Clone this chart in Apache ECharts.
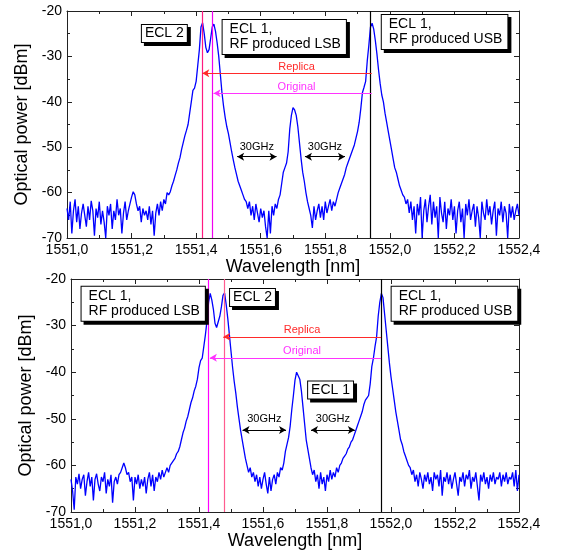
<!DOCTYPE html>
<html><head><meta charset="utf-8">
<script src="https://cdn.jsdelivr.net/npm/echarts@6/dist/echarts.min.js"></script>
<style>html,body{margin:0;padding:0;background:#fff}#c{width:561px;height:553px}</style>
</head><body><div id="c"></div>
<script>
// wavelength grid (nm): first sample and sample spacing
const wlStart = 1551.0;
const wlStep = 0.005;
const xMin = 1551.0, xMax = 1552.4, xInterval = 0.2;
const yMin = -70, yMax = -20, yInterval = 10;

// optical power [dBm]
const topPower = [
-63.5,-66,-62,-69,-64,-61.5,-66.5,-63,-68,-64.5,
-62.5,-65,-67.5,-63,-66,-61.8,-64,-69.5,-63.5,-65.5,
-62,-67,-64,-66.5,-70,-63,-65,-62.5,-68,-64,
-66,-61.5,-65,-63.5,-69,-64.5,-62,-66,-64,-62.5,
-61,-59.8,-60.5,-62.5,-64,-63,-66.5,-63.5,-65,-64,
-66,-63,-67,-64,-69.5,-64.5,-62.5,-65,-62,-64,
-61.5,-62.5,-60,-60.5,-59.8,-58.5,-57.5,-56.2,-55,-53.5,
-52.3,-50.5,-49,-47.5,-46.3,-45,-42.5,-40,-37.5,-37,
-35.5,-32,-28.5,-23.5,-22.6,-25,-28,-29.2,-28.5,-26,
-23.5,-22.9,-24.5,-27,-30,-34,-38,-41,-43.5,-45.5,
-47,-49,-51,-52.8,-54.5,-56,-57.5,-58.5,-59.5,-60.5,
-61.5,-62,-63.5,-62,-65,-63,-66,-62.5,-64.5,-66.5,
-63.5,-65.5,-64,-67.5,-70,-64,-69,-63,-65,-62.5,
-63.5,-61.5,-60.5,-58,-55.5,-54.5,-53.5,-51,-46,-43,
-41.3,-41.8,-43,-45.5,-49,-52.5,-55.5,-57.5,-60,-62,
-63.5,-65,-67.8,-63,-66,-64,-62.5,-65.5,-63,-66,
-62,-64.5,-63,-61.5,-64,-62,-63,-61.5,-60,-59,
-58,-57,-56,-54.5,-53.5,-52.5,-51.5,-50.5,-49.5,-48,
-46.5,-44.5,-41.5,-38,-36.8,-35.5,-31,-27.5,-23.5,-22.7,
-24,-26.5,-29.5,-33,-36,-38.5,-40,-42.5,-44.5,-46.5,
-48.5,-50.5,-52.5,-54.5,-55.5,-57,-58.5,-59.5,-60.5,-61,
-62.5,-61.5,-64.5,-62,-66,-63,-69,-62.5,-65,-61,
-70,-64,-61.5,-66.5,-63,-60.5,-67,-62,-65.5,-63,
-70,-61,-64.5,-66.5,-62,-68,-63.5,-65,-61.5,-66,
-63,-69,-64,-62,-66.5,-63.5,-70,-62.5,-65,-61.5,
-66,-64,-62.5,-67.5,-63,-65.5,-70,-62,-64.5,-66,
-61.5,-65,-63,-67,-64,-62,-69.5,-63.5,-65,-62,
-66.5,-63,-64.5,-70,-62.5,-65.5,-63,-66,-64,-62.5,-65
];

// optical power [dBm]
const bottomPower = [
-63,-65.5,-69.5,-62.5,-64,-61.8,-65,-63,-62,-66.5,
-63.5,-61.5,-64.5,-62.5,-67.5,-63,-61.8,-64,-65.5,-62.5,
-63.5,-61.5,-66,-63,-64.5,-62,-68,-63.5,-62.5,-64,
-62,-61.5,-60.5,-59.5,-60.5,-62,-61.5,-63.5,-62.5,-67.5,
-62.5,-64,-62,-65,-63,-64.5,-62.5,-66,-63,-61.5,
-64.5,-62,-65.5,-62.5,-63.5,-61.5,-63,-61,-62.5,-61.5,
-60.5,-61.5,-60,-59.8,-59,-58.5,-57.5,-57,-56,-54.5,
-53,-52,-50.5,-49.5,-48,-46.5,-45.5,-44,-43,-41.5,
-39,-37.5,-37,-34.5,-32,-29,-25,-23.1,-24.5,-26.5,
-29.5,-30.4,-30.2,-28,-26,-23.5,-23,-25.5,-28.5,-32,
-35.5,-39,-42,-44.5,-47.5,-50,-52.5,-54.5,-56.5,-58.5,
-60,-61.5,-60.5,-62.5,-61.5,-63.5,-62,-64.5,-62.5,-65,
-63,-61.5,-64,-66,-62.5,-65.5,-63,-62,-64,-61.5,
-62.5,-60.5,-61,-59.5,-57,-55.5,-54,-51.5,-48,-45,
-41.7,-40,-40.2,-41.5,-44,-47.5,-51,-54.5,-56.5,-58.5,
-60.5,-62,-61,-63.5,-62,-65,-61.5,-64,-62.5,-65.5,
-62,-63.5,-61,-63,-61.5,-62.5,-60.5,-61.5,-60,-59.5,
-58.5,-58,-57.5,-56.5,-56,-55,-54.5,-53.5,-52.5,-51.5,
-50.5,-49.5,-48.5,-47,-46,-45.5,-45,-42.5,-38.8,-37,
-34.5,-32.4,-28,-25,-23.1,-24,-27.5,-31,-34.5,-38,
-41,-43.5,-46,-48.5,-50.5,-52.5,-54.5,-55.5,-57,-58,
-59,-60,-60.5,-62,-61,-63.5,-62,-64.5,-61.5,-63,
-65,-62,-63.5,-61.5,-64,-62.5,-65.5,-61.5,-63,-62,
-64.5,-61,-66.5,-62.5,-63.5,-61.5,-64,-62,-65,-63,
-61.5,-64,-66.5,-62.5,-63.5,-61.5,-64.5,-62,-63,-61,
-65,-62.5,-63.5,-61.5,-64.5,-67.5,-62,-63.5,-61.5,-64,
-62.5,-65,-62,-63.5,-61.5,-64,-62.5,-63,-61.5,-64.5,
-62,-63.5,-61.5,-64,-62.5,-63,-61.5,-64.5,-61,-65.5,-62
];

// marker wavelengths (nm) and levels (dBm)
const topVLines = [1551.419, 1551.454, 1551.944];
const botVLines = [1551.434, 1551.476, 1551.969];
const topArrowLevels = [-33.7, -38.1];      // Replica, Original
const botArrowLevels = [-32.4, -36.9];
const topGHz = [[1551.527, 1551.649], [1551.737, 1551.861]];
const botGHz = [[1551.536, 1551.672], [1551.750, 1551.887]];
const topGHzLevel = -52.1, botGHzLevel = -52.4;
const topTexts = [
  {t: 'ECL 2', at: [1551.232, -23.1]},
  {t: 'ECL 1,\nRF produced LSB', at: [1551.482, -22.0]},
  {t: 'ECL 1,\nRF produced USB', at: [1551.975, -20.9]}
];
const botTexts = [
  {t: 'ECL 1,\nRF produced LSB', at: [1551.033, -21.65]},
  {t: 'ECL 2', at: [1551.497, -22.15]},
  {t: 'ECL 1,\nRF produced USB', at: [1552.002, -21.65]},
  {t: 'ECL 1', at: [1551.741, -42.0]}
];

const FONT = "'Liberation Sans', Arial, sans-serif";
const AX = '#222';

function toPairs(arr) {
  return arr.map((v, i) => [+(wlStart + i * wlStep).toFixed(3), v]);
}

function xAxisOf(gi, pos, main, gap) {
  return {
    type: 'value', gridIndex: gi, position: pos, min: xMin, max: xMax, interval: xInterval,
    axisLine: {show: true, onZero: false, lineStyle: {color: AX, width: 1}},
    axisTick: {show: true, inside: true, length: 5, lineStyle: {color: AX}},
    minorTick: {show: true, splitNumber: 2, length: 3, lineStyle: {color: AX}},
    splitLine: {show: false},
    axisLabel: {show: main, showMinLabel: true, showMaxLabel: true, margin: 5,
      formatter: v => v.toFixed(1).replace('.', ','), fontSize: 14, color: '#000', fontFamily: FONT},
    name: main ? 'Wavelength [nm]' : '', nameLocation: 'middle', nameGap: gap,
    nameTextStyle: {fontSize: 18, color: '#000', fontFamily: FONT}
  };
}
function yAxisOf(gi, pos, main, gap) {
  return {
    type: 'value', gridIndex: gi, position: pos, min: yMin, max: yMax, interval: yInterval,
    axisLine: {show: true, onZero: false, lineStyle: {color: AX, width: 1}},
    axisTick: {show: true, inside: true, length: 5, lineStyle: {color: AX}},
    minorTick: {show: true, splitNumber: 2, length: 3, lineStyle: {color: AX}},
    splitLine: {show: false},
    axisLabel: {show: main, showMinLabel: true, showMaxLabel: true, margin: 5,
      formatter: v => String(v), fontSize: 14, color: '#000', fontFamily: FONT},
    name: main ? 'Optical power [dBm]' : '', nameLocation: 'middle', nameGap: gap,
    nameTextStyle: {fontSize: 18, color: '#000', fontFamily: FONT}
  };
}

function vline(x, color) {
  return {xAxis: x, lineStyle: {color: color, width: 1.2, type: 'solid'}, label: {show: false}};
}
function arrow(xFrom, xTo, y, color) {
  return [
    {coord: [xFrom, y], symbol: 'arrow', symbolSize: [6, 7],
     lineStyle: {color: color, width: 1.2, type: 'solid'}, label: {show: false}},
    {coord: [xTo, y], symbol: 'none'}
  ];
}
function dblArrow(x1, x2, y) {
  return [
    {coord: [x1, y], symbol: 'arrow', symbolSize: [6, 7],
     lineStyle: {color: '#000', width: 1, type: 'solid'}, label: {show: false}},
    {coord: [x2, y], symbol: 'arrow', symbolSize: [6, 7]}
  ];
}
function textMark(txt, at, color) {
  return {coord: at, symbol: 'circle', symbolSize: 1, itemStyle: {color: 'rgba(0,0,0,0)'},
    label: {show: true, position: 'inside', formatter: txt, color: color, fontSize: 11,
      fontFamily: FONT, align: 'center', verticalAlign: 'middle'}};
}
function boxMark(item) {
  const two = item.t.indexOf('\n') >= 0;
  return {coord: item.at, symbol: 'circle', symbolSize: 1, itemStyle: {color: 'rgba(0,0,0,0)'},
    label: {show: true, position: 'inside', formatter: item.t, color: '#000', fontSize: 14,
      lineHeight: 15, fontFamily: FONT, align: 'left', verticalAlign: 'top',
      backgroundColor: '#fff', borderColor: '#000', borderWidth: 1,
      padding: two ? [2, 5, 2, 7] : [1, 3, 1, 3],
      shadowColor: '#000', shadowBlur: 0, shadowOffsetX: 3, shadowOffsetY: 3}};
}

function markers(vl, levels, ghz, ghzLevel, texts, vColors, labelPos, ghzLabelLevel) {
  return {
    markLine: {
      silent: true, animation: false, symbol: ['none', 'none'],
      data: [
        vline(vl[0], vColors[0]), vline(vl[1], vColors[1]), vline(vl[2], '#000'),
        arrow(vl[labelPos.rep], vl[2], levels[0], '#ff2a2a'),
        arrow(vl[labelPos.ori], vl[2], levels[1], '#ff33ff'),
        dblArrow(ghz[0][0], ghz[0][1], ghzLevel),
        dblArrow(ghz[1][0], ghz[1][1], ghzLevel)
      ]
    },
    markPoint: {
      silent: true, animation: false,
      data: [
        textMark('Replica', [labelPos.x, levels[0] + 1.45], '#ff2a2a'),
        textMark('Original', [labelPos.x, levels[1] + 1.45], '#ff33ff'),
        textMark('30GHz', [(ghz[0][0] + ghz[0][1]) / 2, ghzLabelLevel], '#000'),
        textMark('30GHz', [(ghz[1][0] + ghz[1][1]) / 2, ghzLabelLevel], '#000')
      ].concat(texts.map(boxMark))
    }
  };
}

const chart = echarts.init(document.getElementById('c'), null, {renderer: 'canvas'});

const topSeries = Object.assign({
  type: 'line', xAxisIndex: 0, yAxisIndex: 0, data: toPairs(topPower),
  showSymbol: false, symbol: 'none', clip: true, animation: false,
  lineStyle: {color: '#0000ff', width: 1.3}
}, markers(topVLines, topArrowLevels, topGHz, topGHzLevel, topTexts,
  ['#ff1a80', '#f000f0'], {rep: 0, ori: 1, x: 1551.711}, -49.9));

const botSeries = Object.assign({
  type: 'line', xAxisIndex: 2, yAxisIndex: 2, data: toPairs(bottomPower),
  showSymbol: false, symbol: 'none', clip: true, animation: false,
  lineStyle: {color: '#0000ff', width: 1.3}
}, markers(botVLines, botArrowLevels, botGHz, botGHzLevel, botTexts,
  ['#ff00ff', '#ff5c8f'], {rep: 1, ori: 0, x: 1551.722}, -50.0));

chart.setOption({
  animation: false,
  backgroundColor: '#fff',
  grid: [
    {left: 67, top: 11, width: 452, height: 227},
    {left: 71, top: 279, width: 448, height: 233}
  ],
  xAxis: [
    xAxisOf(0, 'bottom', true, 19), xAxisOf(0, 'top', false, 0),
    xAxisOf(1, 'bottom', true, 20), xAxisOf(1, 'top', false, 0)
  ],
  yAxis: [
    yAxisOf(0, 'left', true, 31), yAxisOf(0, 'right', false, 0),
    yAxisOf(1, 'left', true, 34), yAxisOf(1, 'right', false, 0)
  ],
  series: [topSeries, botSeries]
});
</script>
</body></html>
